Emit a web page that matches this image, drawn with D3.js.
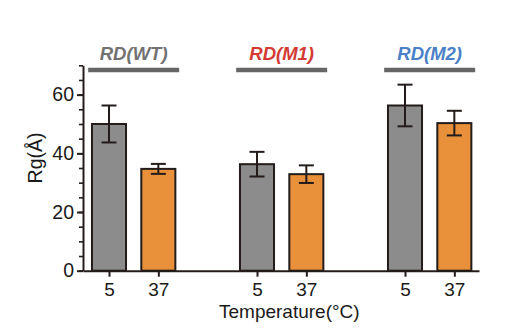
<!DOCTYPE html>
<html>
<head>
<meta charset="utf-8">
<script src="https://cdn.jsdelivr.net/npm/d3@7"></script>
<style>
  html, body { margin: 0; padding: 0; background: #fff; }
  svg { display: block; font-family: "Liberation Sans", Arial, sans-serif; }
</style>
</head>
<body>
<svg id="chart" width="506" height="336"></svg>
<script>
// ---- data ----
const groups = ["RD(WT)", "RD(M1)", "RD(M2)"];
const temperatures = ["5", "37"];
const rg5 = [50.0, 36.3, 56.3];
const rg5Err = [6.3, 4.2, 7.1];
const rg37 = [34.7, 32.9, 50.3];
const rg37Err = [1.7, 3.0, 4.2];
const yTicks = [0, 20, 40, 60];

// ---- styles ----
const groupColors = ["#727272", "#d23a33", "#4a80c6"];
const barColors = {"5": "#8b8c8b", "37": "#e8913a"};
const ink = "#231c1a";

const svg = d3.select("#chart");
const margin = {left: 83, right: 27, top: 65.3, bottom: 65.3};
const W = 506, H = 336;

// position index: group g, temp t -> g*3 + t
const bars = [];
groups.forEach((g, gi) => {
  bars.push({group: g, gi, temp: temperatures[0], pos: gi * 3, v: rg5[gi], e: rg5Err[gi]});
  bars.push({group: g, gi, temp: temperatures[1], pos: gi * 3 + 1, v: rg37[gi], e: rg37Err[gi]});
});

const x = d3.scaleLinear().domain([-0.527, 7.5]).range([margin.left, W - margin.right]);
const y = d3.scaleLinear().domain([0, 70]).range([H - margin.bottom, margin.top]);
const bw = x(0.69) - x(0);

// bars
svg.append("g").selectAll("rect").data(bars).join("rect")
  .attr("x", d => x(d.pos) - bw / 2)
  .attr("y", d => y(d.v))
  .attr("width", bw)
  .attr("height", d => y(0) - y(d.v))
  .attr("fill", d => barColors[d.temp])
  .attr("stroke", ink)
  .attr("stroke-width", 2);

// error bars
const capW = 15;
const eg = svg.append("g").attr("stroke", ink).attr("stroke-width", 2);
bars.forEach(d => {
  const cx = x(d.pos);
  eg.append("line").attr("x1", cx).attr("x2", cx).attr("y1", y(d.v + d.e)).attr("y2", y(d.v - d.e));
  eg.append("line").attr("x1", cx - capW / 2).attr("x2", cx + capW / 2).attr("y1", y(d.v + d.e)).attr("y2", y(d.v + d.e));
  eg.append("line").attr("x1", cx - capW / 2).attr("x2", cx + capW / 2).attr("y1", y(d.v - d.e)).attr("y2", y(d.v - d.e));
});

// y axis: minor ticks every 5
const yMinor = svg.append("g").attr("transform", `translate(${x.range()[0]},0)`)
  .call(d3.axisLeft(y).tickValues(d3.range(0, 71, 5)).tickSize(4).tickFormat(""));
yMinor.select(".domain").remove();
yMinor.selectAll("line").attr("stroke", ink).attr("stroke-width", 1.6);

const yAxis = svg.append("g").attr("transform", `translate(${x.range()[0]},0)`)
  .call(d3.axisLeft(y).tickValues(yTicks).tickSize(6).tickSizeOuter(0).tickPadding(3));
yAxis.select(".domain").attr("stroke", ink).attr("stroke-width", 2);
yAxis.selectAll(".tick line").attr("stroke", ink).attr("stroke-width", 2);
yAxis.selectAll(".tick text").attr("font-size", 19.5).attr("fill", "#1a1a1a")
  .attr("font-family", "Liberation Sans, Arial, sans-serif");

// x axis
const xAxis = svg.append("g").attr("transform", `translate(0,${y(0)})`)
  .call(d3.axisBottom(x).tickValues(bars.map(d => d.pos))
    .tickFormat(p => bars.find(b => b.pos === p).temp)
    .tickSize(6).tickSizeOuter(0).tickPadding(5.5));
xAxis.select(".domain").attr("stroke", ink).attr("stroke-width", 2);
xAxis.selectAll(".tick line").attr("stroke", ink).attr("stroke-width", 2);
xAxis.selectAll(".tick text").attr("font-size", 19).attr("fill", "#1a1a1a")
  .attr("font-family", "Liberation Sans, Arial, sans-serif");

// group labels and lines
groups.forEach((g, gi) => {
  const c = (x(gi * 3) + x(gi * 3 + 1)) / 2;
  svg.append("line")
    .attr("x1", c - 45.5).attr("x2", c + 45.5)
    .attr("y1", 70).attr("y2", 70)
    .attr("stroke", "#666666").attr("stroke-width", 4.5);
  svg.append("text")
    .attr("x", c).attr("y", 60)
    .attr("text-anchor", "middle")
    .attr("font-size", 18.5)
    .attr("font-weight", "bold")
    .attr("font-style", "italic")
    .attr("fill", groupColors[gi])
    .text(g);
});

// axis titles
svg.append("text")
  .attr("transform", `translate(42,158) rotate(-90)`)
  .attr("text-anchor", "middle")
  .attr("font-size", 19.5)
  .attr("fill", "#1a1a1a")
  .text("Rg(Å)");

svg.append("text")
  .attr("x", 219).attr("y", 317.5)
  .attr("font-size", 19)
  .attr("fill", "#1a1a1a")
  .text("Temperature(°C)");
</script>
</body>
</html>
